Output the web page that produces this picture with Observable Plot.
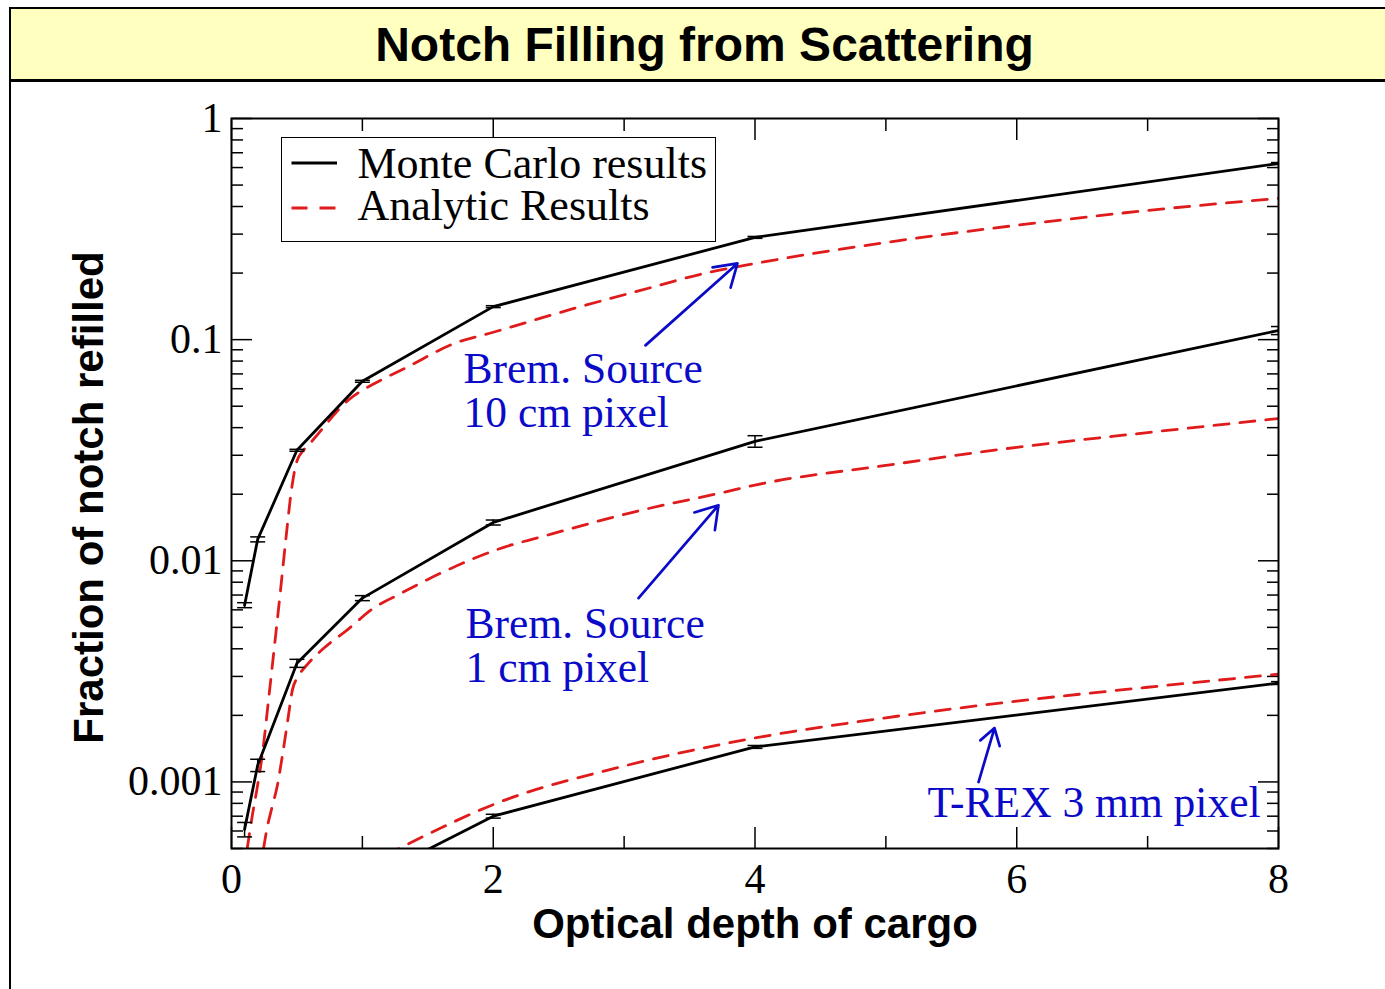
<!DOCTYPE html>
<html>
<head>
<meta charset="utf-8">
<script src="https://cdn.jsdelivr.net/npm/d3@7"></script>
<script src="https://cdn.jsdelivr.net/npm/@observablehq/plot@0.6"></script>
<style>
  body { margin: 0; background: #fff; }
  #page { position: relative; width: 1385px; height: 989px; overflow: hidden; background: #fff; }
  #title { position: absolute; left: 9px; top: 7px; width: 1391px; height: 75px; box-sizing: border-box;
    background: #ffffc0; border: 2px solid #000; border-bottom-width: 3px;
    display: flex; align-items: center; justify-content: center;
    font-family: "Liberation Sans", Arial, sans-serif; font-weight: bold; font-size: 48px; color: #000; }
  #chart { position: absolute; left: 0; top: 82px; }
  #leftline { position: absolute; left: 9px; top: 80px; width: 2px; height: 909px; background: #000; }
  #legend { position: absolute; left: 281px; top: 137px; width: 435px; height: 105px; box-sizing: border-box;
    border: 1.5px solid #000; background: #fff; }
  #legend svg { position: absolute; left: 0; top: 0; }
</style>
</head>
<body>
<div id="page">
  <div id="title">Notch Filling from Scattering</div>
  <div id="chart"></div>
  <div id="leftline"></div>
  <div id="legend"></div>
</div>
<script>
// ---------- data ----------
const titleText = "Notch Filling from Scattering";
const xLabel = "Optical depth of cargo";
const yLabel = "Fraction of notch refilled";
const legendLabels = ["Monte Carlo results", "Analytic Results"];

const xMajor = [0, 2, 4, 6, 8];
const xTickLabels = ["0", "2", "4", "6", "8"];
const xMinor = [1, 3, 5, 7];
const yMajor = [0.001, 0.01, 0.1, 1];
const yTickLabels = ["0.001", "0.01", "0.1", "1"];
const yMinorMult = [2, 3, 4, 5, 6, 7, 8, 9];
const yMinorDecades = [0.0001, 0.001, 0.01, 0.1];

// Monte Carlo results (with relative errors)
const mcSeries = ["Brem 10 cm", "Brem 1 cm", "T-REX 3 mm"];
const mc10X = [0.1, 0.2, 0.5, 1, 2, 4, 8];
const mc10Y = [0.0063, 0.0125, 0.0316, 0.0648, 0.141, 0.29, 0.626];
const mc10Err = [0.026, 0.026, 0.01, 0.01, 0.01, 0.01, 0.01];
const mc1X = [0.1, 0.2, 0.5, 1, 2, 4, 8];
const mc1Y = [0.00061, 0.00119, 0.00344, 0.00678, 0.0149, 0.0347, 0.110];
const mc1Err = [0.075, 0.064, 0.042, 0.026, 0.026, 0.06, 0.042];
const mcTX = [1, 2, 4, 8];
const mcTY = [0.00035, 0.0007, 0.00144, 0.0028];
const mcTErr = [0.02, 0.02, 0.015, 0.015];

// Analytic results
const an10X = [0.12, 0.16, 0.2, 0.237, 0.283, 0.33, 0.375, 0.42, 0.458, 0.497, 0.55, 0.6, 0.89, 1.14, 1.34, 1.7, 2.0, 2.61, 3.125, 3.64, 4, 5, 6, 7, 8];
const an10Y = [0.0005, 0.00071, 0.00097, 0.00135, 0.00235, 0.0042, 0.0074, 0.0133, 0.0209, 0.0279, 0.0316, 0.034, 0.0531, 0.0655, 0.075, 0.096, 0.108, 0.138, 0.167, 0.201, 0.221, 0.275, 0.329, 0.384, 0.435];
const an1X = [0.245, 0.27, 0.31, 0.35, 0.39, 0.43, 0.465, 0.51, 0.58, 0.7, 0.89, 1.085, 1.29, 1.6, 2.08, 2.36, 3.125, 3.76, 4, 5, 6, 7, 8];
const an1Y = [0.0005, 0.00061, 0.00077, 0.00096, 0.00133, 0.0019, 0.0026, 0.0030, 0.0034, 0.0040, 0.0049, 0.0061, 0.0071, 0.0088, 0.0115, 0.0128, 0.0169, 0.0204, 0.022, 0.027, 0.0326, 0.038, 0.044];
const anTX = [1.0, 1.5, 2, 3, 4, 5, 6, 7, 8];
const anTY = [0.00041, 0.00058, 0.00079, 0.00118, 0.00158, 0.00195, 0.00232, 0.00268, 0.00307];

// Annotations (data coordinates)
const noteText = ["Brem. Source\n10 cm pixel", "Brem. Source\n1 cm pixel", "T-REX 3 mm pixel"];
const noteX = [1.773, 1.788, 5.318];
const noteY = [0.0876, 0.00617, 0.000958];
const arrowX1 = [3.163, 3.110, 5.708];
const arrowY1 = [0.0942, 0.00678, 0.000999];
const arrowX2 = [3.866, 3.721, 5.83];
const arrowY2 = [0.2212, 0.01784, 0.001752];

// ---------- build tables ----------
function rows(xs, ys, s) { return xs.map((x, i) => ({x, y: ys[i], series: s})); }
function errRows(xs, ys, es, s) { return xs.map((x, i) => ({x, y: ys[i], lo: ys[i] * (1 - es[i]), hi: ys[i] * (1 + es[i]), series: s})); }
const mcRows = [...rows(mc10X, mc10Y, mcSeries[0]), ...rows(mc1X, mc1Y, mcSeries[1]), ...rows(mcTX, mcTY, mcSeries[2])];
const anRows = [...rows(an10X, an10Y, mcSeries[0]), ...rows(an1X, an1Y, mcSeries[1]), ...rows(anTX, anTY, mcSeries[2])];
const ebRows = [...errRows(mc10X, mc10Y, mc10Err, mcSeries[0]), ...errRows(mc1X, mc1Y, mc1Err, mcSeries[1]), ...errRows(mcTX, mcTY, mcTErr, mcSeries[2])]
  .filter(d => d.lo >= 0.0005);
const notes = noteText.map((t, i) => ({text: t, x: noteX[i], y: noteY[i]}));
const arrows = arrowX1.map((x, i) => ({x1: x, y1: arrowY1[i], x2: arrowX2[i], y2: arrowY2[i]}));
const yMinor = yMinorDecades.flatMap(d => yMinorMult.map(m => +(d * m).toPrecision(3))).filter(v => v >= 0.0005 && v <= 1);

const RED = "#e01b1b";
const BLUE = "#0a0ac8";
const capSymbol = {draw(ctx, size) { const r = Math.sqrt(size / Math.PI); ctx.moveTo(-r, 0); ctx.lineTo(r, 0); }};
const tickFont = {fontFamily: "Liberation Serif", fontSize: 42, strokeWidth: 1.5, label: null};

const plot = Plot.plot({
  width: 1385,
  height: 907,
  marginLeft: 231,
  marginRight: 107,
  marginTop: 36,
  marginBottom: 141,
  style: {background: "transparent", overflow: "visible", color: "black"},
  x: {domain: [0, 8]},
  y: {type: "log", domain: [0.0005, 1]},
  marks: [
    // ticks on all four sides, pointing inward
    Plot.axisX({...tickFont, ticks: xMajor, tickSize: -21, tickPadding: 36, tickFormat: d => xTickLabels[xMajor.indexOf(d)]}),
    Plot.axisX({...tickFont, ticks: xMinor, tickSize: -12, tickFormat: () => ""}),
    Plot.axisX({...tickFont, anchor: "top", ticks: xMajor, tickSize: -21, tickFormat: () => ""}),
    Plot.axisX({...tickFont, anchor: "top", ticks: xMinor, tickSize: -12, tickFormat: () => ""}),
    Plot.axisY({...tickFont, ticks: yMajor, tickSize: -21, tickPadding: 30, tickFormat: d => yTickLabels[yMajor.indexOf(d)]}),
    Plot.axisY({...tickFont, ticks: yMinor, tickSize: -12, tickFormat: () => ""}),
    Plot.axisY({...tickFont, anchor: "right", ticks: yMajor, tickSize: -21, tickFormat: () => ""}),
    Plot.axisY({...tickFont, anchor: "right", ticks: yMinor, tickSize: -12, tickFormat: () => ""}),
    // analytic (dashed red)
    Plot.line(anRows, {x: "x", y: "y", z: "series", stroke: RED, strokeWidth: 2.8, strokeDasharray: "15,11", curve: "monotone-x", clip: true}),
    // Monte Carlo (solid black)
    Plot.line(mcRows, {x: "x", y: "y", z: "series", stroke: "black", strokeWidth: 2.8, clip: true}),
    Plot.ruleX(ebRows, {x: "x", y1: "lo", y2: "hi", stroke: "black", strokeWidth: 1.5, clip: true}),
    Plot.dot(ebRows, {x: "x", y: "lo", r: 7.5, symbol: capSymbol, stroke: "black", fill: "none", strokeWidth: 1.5, clip: true}),
    Plot.dot(ebRows, {x: "x", y: "hi", r: 7.5, symbol: capSymbol, stroke: "black", fill: "none", strokeWidth: 1.5, clip: true}),
    // annotations
    Plot.arrow(arrows, {x1: "x1", y1: "y1", x2: "x2", y2: "y2", stroke: BLUE, strokeWidth: 2.7, headLength: 14, headAngle: 65}),
    Plot.text(notes, {x: "x", y: "y", text: "text", textAnchor: "start", lineAnchor: "top", lineHeight: 1.0, fontSize: 43.5, fontFamily: "Liberation Serif", fill: BLUE}),
    // axis titles
    Plot.text([xLabel], {frameAnchor: "bottom", dy: 60, lineAnchor: "top", textAnchor: "middle", fontFamily: "Liberation Sans", fontWeight: "bold", fontSize: 42, fill: "black"}),
    Plot.text([yLabel], {frameAnchor: "left", dx: -129, dy: 14, rotate: -90, lineAnchor: "bottom", textAnchor: "middle", fontFamily: "Liberation Sans", fontWeight: "bold", fontSize: 42, fill: "black"}),
    Plot.frame({stroke: "black", strokeWidth: 2})
  ]
});
document.getElementById("chart").appendChild(plot);
document.getElementById("title").textContent = titleText;

// legend (inside the plot area, top-left)
const lg = d3.select("#legend").append("svg").attr("width", 432).attr("height", 102);
lg.append("line").attr("x1", 9.5).attr("x2", 55).attr("y1", 25).attr("y2", 25).attr("stroke", "black").attr("stroke-width", 2.8);
lg.append("line").attr("x1", 9.5).attr("x2", 55).attr("y1", 70).attr("y2", 70).attr("stroke", RED).attr("stroke-width", 2.8).attr("stroke-dasharray", "16,12");
legendLabels.forEach((t, i) => {
  lg.append("text").attr("x", 75.5).attr("y", 39.5 + 42 * i).attr("font-family", "Liberation Serif").attr("font-size", 44).attr("fill", "black").text(t);
});
</script>
</body>
</html>
